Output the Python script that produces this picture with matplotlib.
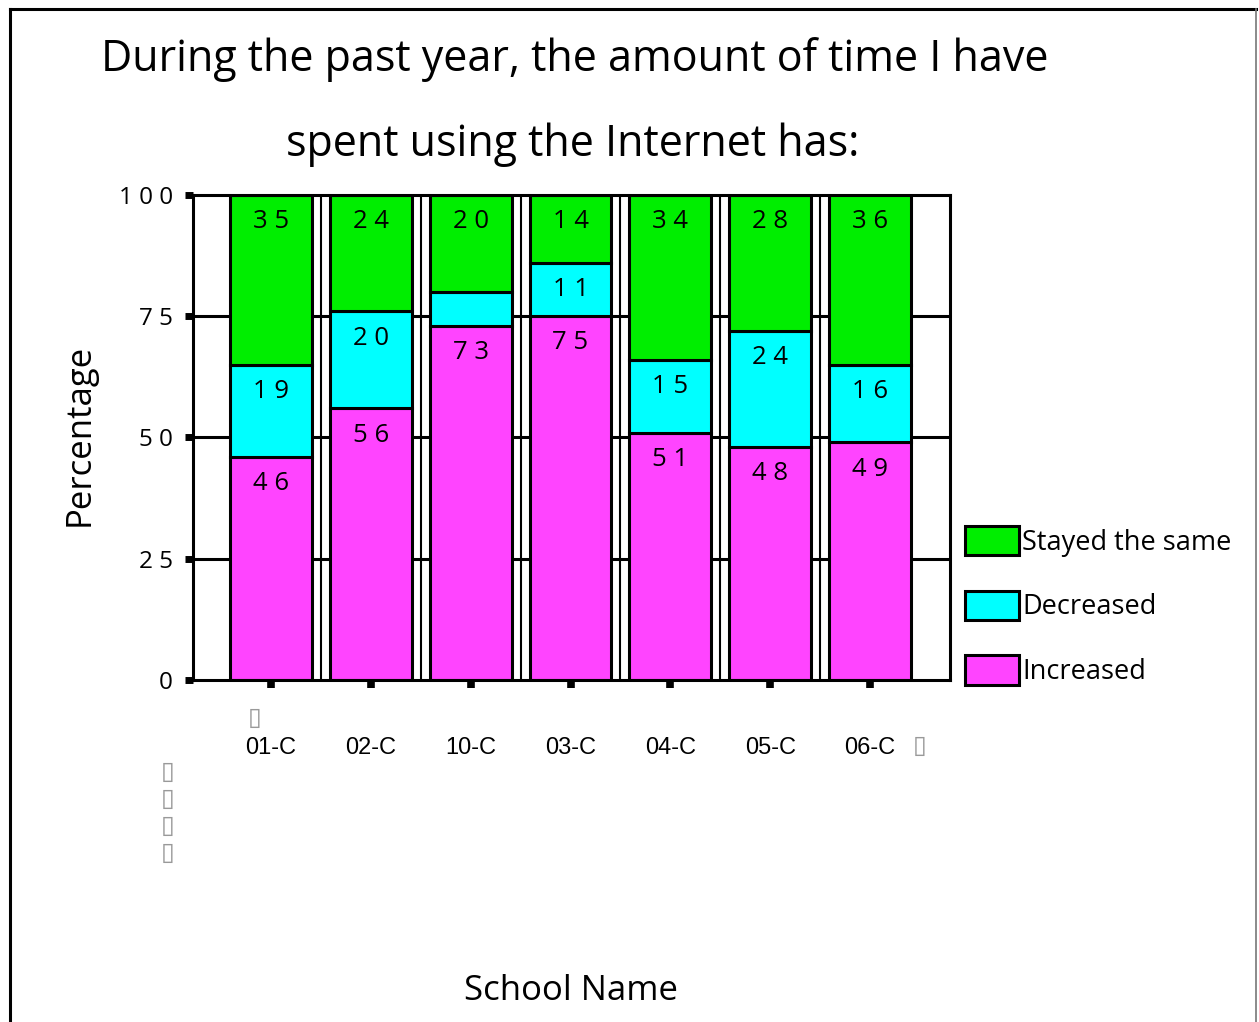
import matplotlib
matplotlib.use("Agg")
import matplotlib.pyplot as plt
import numpy as np
from matplotlib.lines import Line2D
from matplotlib.patches import Patch

schools = ["01-C", "02-C", "10-C", "03-C", "04-C", "05-C", "06-C"]
increased = [46, 56, 73, 75, 51, 48, 49]
decreased = [19, 20, 7, 11, 15, 24, 16]
stayed = [35, 24, 20, 14, 34, 28, 36]
series_names = ["Increased", "Decreased", "Stayed the same"]
series_colors = ["#FF44FF", "#00FFFF", "#00EE00"]
y_ticks = [0, 25, 50, 75, 100]

W, H = 1259, 1022
fig = plt.figure(figsize=(W / 100, H / 100), dpi=100)
fig.patch.set_facecolor("white")

# figure border
fig.add_artist(Line2D([10 / W, 10 / W], [0, 1 - 9 / H], color="black", lw=2.2, transform=fig.transFigure))
fig.add_artist(Line2D([10 / W, 1256 / W], [1 - 9 / H, 1 - 9 / H], color="black", lw=2.2, transform=fig.transFigure))
fig.add_artist(Line2D([1256 / W, 1256 / W], [0, 1 - 9 / H], color="#777777", lw=1.2, transform=fig.transFigure))

ax = fig.add_axes([193 / W, 1 - 680 / H, (950 - 193) / W, (680 - 195) / H])
x = np.arange(len(schools))
width = 0.82
edge_lw = 2.2

# gridlines and separators
for yv in y_ticks[1:-1]:
    ax.axhline(yv, color="black", lw=2.2, zorder=0)
for xv in x[:-1] + 0.5:
    ax.axvline(xv, color="black", lw=1.5, zorder=0)

bottom = np.zeros(len(schools))
for vals, name, col in zip([increased, decreased, stayed], series_names, series_colors):
    vals = np.array(vals, dtype=float)
    ax.bar(x, vals, width, bottom=bottom, color=col, edgecolor="black", linewidth=edge_lw, label=name, zorder=2)
    for xi, b, v in zip(x, bottom, vals):
        if v >= 10:
            top = min(b + v, 100)
            ax.text(xi, top - 5.5, " ".join(str(int(v))), ha="center", va="center",
                    fontsize=18.5, family="Open Sans", zorder=3)
    bottom += vals

ax.set_xlim(-0.78, 6.8)
ax.set_ylim(0, 100)
ax.set_yticks(y_ticks)
ax.set_yticklabels([" ".join(str(t)) for t in y_ticks], fontsize=17.5, family="Open Sans")
ax.set_xticks(x)
ax.set_xticklabels(schools, fontsize=17, family="Liberation Sans")
ax.tick_params(axis="y", direction="out", length=5.5, width=5, pad=9)
ax.tick_params(axis="x", direction="out", length=6, width=5.5, pad=35)
for s in ax.spines.values():
    s.set_linewidth(2.2)
    s.set_zorder(4)

ax.set_ylabel("Percentage", fontsize=25, family="Open Sans")
ax.yaxis.set_label_coords(-0.127, 0.505)
fig.text(571 / W, 1 - 991 / H, "School Name", ha="center", va="center", fontsize=25, family="Open Sans")

fig.text(575 / W, 1 - 60 / H, "During the past year, the amount of time I have", ha="center", va="center",
         fontsize=31, family="Open Sans")
fig.text(573 / W, 1 - 145 / H, "spent using the Internet has:", ha="center", va="center",
         fontsize=31, family="Open Sans")

# stray unrenderable characters shown as boxes
box = "\u25af"
for (bx, by) in [(255, 718), (920, 746), (168, 772), (168, 799), (168, 826), (168, 853)]:
    fig.text(bx / W, 1 - by / H, box, ha="center", va="center", fontsize=18, color="#999999",
             family="DejaVu Sans")

handles = [Patch(facecolor=c, edgecolor="black", linewidth=2.2) for c in series_colors][::-1]
leg = ax.legend(handles, series_names[::-1], loc="lower left",
                frameon=False, prop={"family": "Open Sans", "size": 19.5},
                handlelength=2.0, handleheight=1.3, labelspacing=1.25, handletextpad=0.12, borderaxespad=0)
leg.set_bbox_to_anchor((1.005, -0.035), transform=ax.transAxes)

fig.savefig("out.png", dpi=100, facecolor="white")
